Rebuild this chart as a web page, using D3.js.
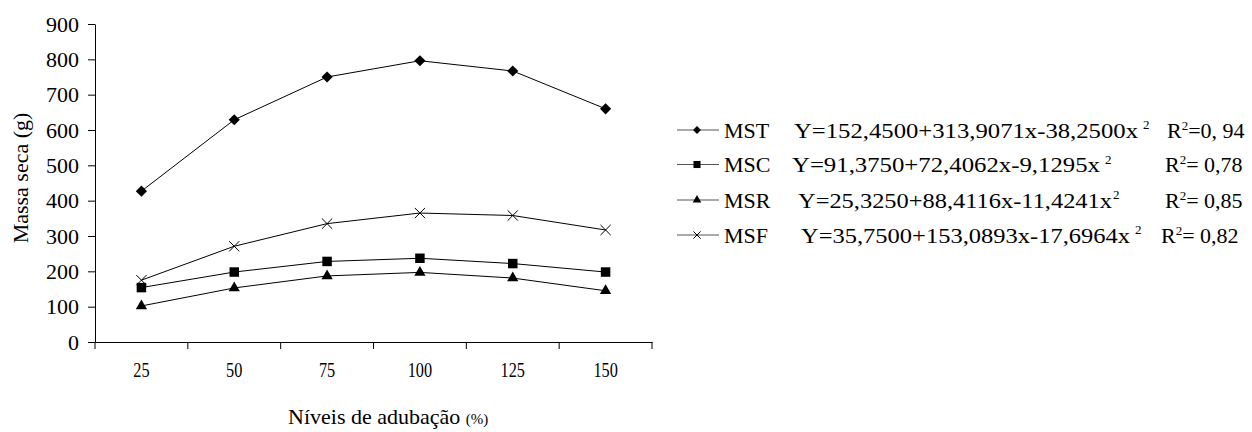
<!DOCTYPE html>
<html>
<head>
<meta charset="utf-8">
<script src="https://cdn.jsdelivr.net/npm/d3@7"></script>
<style>
  body { margin: 0; background: #fff; }
  svg text { font-family: "Liberation Serif", "Times New Roman", serif !important; fill: #000; }
</style>
</head>
<body>
<div id="chart"></div>
<script>
// niveis de adubacao (%) e massa seca (g)
var niveis = ["25", "50", "75", "100", "125", "150"];
var mst = [427, 629, 750, 796, 767, 660];
var msc = [154, 198, 228, 237, 222, 198];
var msr = [102, 153, 187, 197, 181, 145];
var msf = [175, 271, 335, 365, 358, 317];
var yTicks = [0, 100, 200, 300, 400, 500, 600, 700, 800, 900];

var seriesNames = ["MST", "MSC", "MSR", "MSF"];
var equations = [
    "Y=152,4500+313,9071x-38,2500x",
    "Y=91,3750+72,4062x-9,1295x",
    "Y=25,3250+88,4116x-11,4241x",
    "Y=35,7500+153,0893x-17,6964x"
];
var r2Texts = ["=0, 94", "= 0,78", "= 0,85", "= 0,82"];

var serif = "Liberation Serif, Times New Roman, serif";
var width = 1252, height = 432;
var plot = {left: 95, right: 652, top: 24, bottom: 342};

var svg = d3.select("#chart")
    .append("svg")
    .attr("width", width)
    .attr("height", height)
    .attr("font-family", serif);

var x = d3.scaleBand()
    .domain(niveis)
    .range([plot.left, plot.right])
    .paddingInner(0)
    .paddingOuter(0);

var y = d3.scaleLinear()
    .domain([0, 900])
    .range([plot.bottom, plot.top]);

// eixo y
var yAxis = svg.append("g")
    .attr("transform", "translate(" + plot.left + ",0)")
    .call(d3.axisLeft(y).tickValues(yTicks).tickSize(7).tickPadding(9).tickSizeOuter(0));
yAxis.attr("font-family", serif).attr("font-size", 22);

// eixo x, rotulos no centro das classes
var xAxis = svg.append("g")
    .attr("transform", "translate(0," + plot.bottom + ")")
    .call(d3.axisBottom(x).tickSize(0).tickPadding(19).tickSizeOuter(0));
xAxis.attr("font-family", serif).attr("font-size", 22);
xAxis.selectAll("text")
    .attr("transform", "scale(0.74,1)");

// marcas nas bordas das classes
var edges = niveis.map(function(d) { return x(d); }).concat([x(niveis[niveis.length - 1]) + x.bandwidth()]);
xAxis.selectAll(".edge")
    .data(edges)
    .enter()
    .append("line")
    .attr("class", "edge")
    .attr("x1", function(d) { return d; })
    .attr("x2", function(d) { return d; })
    .attr("y1", 0)
    .attr("y2", 7)
    .attr("stroke", "#000");

svg.selectAll(".domain").attr("stroke", "#000");

// titulos dos eixos
svg.append("text")
    .attr("transform", "translate(28,178) rotate(-90)")
    .attr("text-anchor", "middle")
    .attr("font-family", serif)
    .style("font-size", "22px")
    .text("Massa seca (g)");

var xTitle = svg.append("text")
    .attr("x", 288)
    .attr("y", 424)
    .attr("font-family", serif)
    .style("font-size", "22px");
xTitle.append("tspan").text("Níveis de adubação ");
xTitle.append("tspan").style("font-size", "15px").text("(%)");

// series
var series = [
    {name: seriesNames[0], values: mst, symbol: d3.symbolDiamond2, size: 80, lsize: 40, fill: "#000"},
    {name: seriesNames[1], values: msc, symbol: d3.symbolSquare, size: 90, lsize: 50, fill: "#000"},
    {name: seriesNames[2], values: msr, symbol: d3.symbolTriangle, size: 55, lsize: 32, fill: "#000"},
    {name: seriesNames[3], values: msf, symbol: d3.symbolTimes, size: 70, lsize: 36, fill: "none"}
];

var line = d3.line()
    .x(function(d, i) { return x(niveis[i]) + x.bandwidth() / 2; })
    .y(function(d) { return y(d); });

series.forEach(function(s) {
    svg.append("path")
        .datum(s.values)
        .attr("d", line)
        .attr("fill", "none")
        .attr("stroke", "#000")
        .attr("stroke-width", 1);

    svg.append("g")
        .selectAll("path")
        .data(s.values)
        .enter()
        .append("path")
        .attr("transform", function(d, i) { return "translate(" + (x(niveis[i]) + x.bandwidth() / 2) + "," + y(d) + ")"; })
        .attr("d", d3.symbol().type(s.symbol).size(s.size))
        .attr("fill", s.fill)
        .attr("stroke", "#000")
        .attr("stroke-width", s.fill == "none" ? 1 : 0);
});

// legenda
var rowY = [130, 164.5, 200, 235];
var eqStart = [794, 792, 798, 801];
var eqEnd = [1138, 1100, 1112, 1130];
var supGap = [5, 5, 1, 5];
var r2Start = [1167, 1165, 1165, 1161];

var legend = svg.append("g").attr("font-family", serif);
series.forEach(function(s, i) {
    var g = legend.append("g").attr("transform", "translate(0," + rowY[i] + ")");
    g.append("line")
        .attr("x1", 677).attr("x2", 719)
        .attr("y1", 0).attr("y2", 0)
        .attr("stroke", "#555");
    g.append("path")
        .attr("transform", "translate(697,0)")
        .attr("d", d3.symbol().type(s.symbol).size(s.lsize))
        .attr("fill", s.fill)
        .attr("stroke", "#000")
        .attr("stroke-width", s.fill == "none" ? 1 : 0);
    g.append("text")
        .attr("x", 724).attr("y", 7.5)
        .style("font-size", "22px")
        .text(s.name);
    g.append("text")
        .attr("x", eqStart[i]).attr("y", 7.5)
        .attr("textLength", eqEnd[i] - eqStart[i])
        .attr("lengthAdjust", "spacingAndGlyphs")
        .style("font-size", "22px")
        .text(equations[i]);
    g.append("text")
        .attr("x", eqEnd[i] + supGap[i]).attr("y", -1)
        .style("font-size", "13px")
        .text("2");
    var r2 = g.append("text")
        .attr("x", r2Start[i]).attr("y", 7.5)
        .style("font-size", "22px");
    r2.append("tspan").text("R");
    r2.append("tspan").attr("dy", -8).style("font-size", "13px").text("2");
    r2.append("tspan").attr("dy", 8).text(r2Texts[i]);
});
</script>
</body>
</html>
